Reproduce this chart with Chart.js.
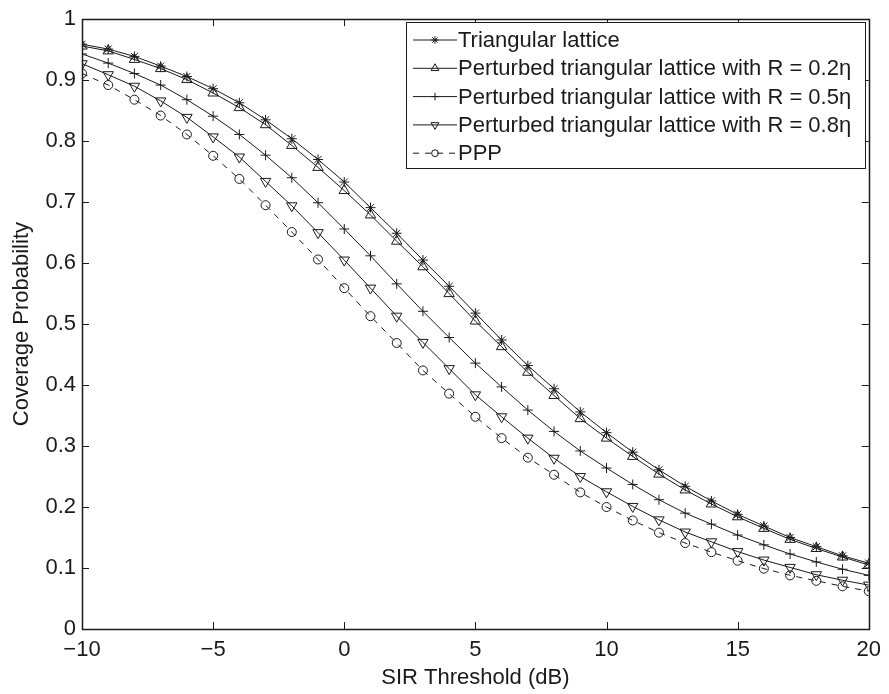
<!DOCTYPE html>
<html>
<head>
<meta charset="utf-8">
<script src="https://cdn.jsdelivr.net/npm/chart.js@4.4.1/dist/chart.umd.min.js"></script>
<style>
  html, body { margin: 0; padding: 0; background: #fff; }
  #wrap { width: 889px; height: 694px; }
</style>
</head>
<body>
<div id="wrap"><canvas id="covChart" width="889" height="694"></canvas></div>
<script>
// SIR threshold in dB
const sir = [-10, -9, -8, -7, -6, -5, -4, -3, -2, -1, 0, 1, 2, 3, 4, 5, 6, 7, 8, 9, 10,
  11, 12, 13, 14, 15, 16, 17, 18, 19, 20];

const seriesNames = [
  "Triangular lattice",
  "Perturbed triangular lattice with R = 0.2\u03b7",
  "Perturbed triangular lattice with R = 0.5\u03b7",
  "Perturbed triangular lattice with R = 0.8\u03b7",
  "PPP",
];

const triLattice = [0.959, 0.951, 0.939, 0.923, 0.906, 0.886, 0.863, 0.835, 0.804, 0.770, 0.733,
  0.691, 0.649, 0.605, 0.562, 0.518, 0.474, 0.432, 0.394, 0.356, 0.322,
  0.290, 0.261, 0.234, 0.210, 0.188, 0.169, 0.150, 0.135, 0.120, 0.108];
const pert02 = [0.956, 0.948, 0.934, 0.919, 0.901, 0.879, 0.855, 0.827, 0.793, 0.757, 0.719,
  0.679, 0.636, 0.594, 0.550, 0.505, 0.463, 0.421, 0.383, 0.345, 0.313,
  0.283, 0.254, 0.228, 0.205, 0.184, 0.165, 0.147, 0.132, 0.118, 0.105];
const pert05 = [0.943, 0.928, 0.911, 0.892, 0.868, 0.841, 0.811, 0.777, 0.740, 0.699, 0.656,
  0.612, 0.566, 0.521, 0.478, 0.436, 0.397, 0.359, 0.324, 0.292, 0.264,
  0.237, 0.212, 0.190, 0.172, 0.154, 0.138, 0.123, 0.110, 0.098, 0.088];
const pert08 = [0.927, 0.909, 0.890, 0.866, 0.839, 0.807, 0.774, 0.734, 0.694, 0.650, 0.605,
  0.559, 0.513, 0.470, 0.427, 0.384, 0.348, 0.313, 0.280, 0.250, 0.225,
  0.201, 0.179, 0.159, 0.143, 0.127, 0.113, 0.101, 0.089, 0.080, 0.072];
const ppp = [0.911, 0.892, 0.868, 0.842, 0.811, 0.776, 0.738, 0.695, 0.651, 0.606, 0.559,
  0.513, 0.469, 0.424, 0.386, 0.348, 0.313, 0.281, 0.253, 0.224, 0.200,
  0.178, 0.158, 0.141, 0.126, 0.112, 0.099, 0.088, 0.079, 0.070, 0.062];

const xTicks = [-10, -5, 0, 5, 10, 15, 20];
const yTicks = [0, 0.1, 0.2, 0.3, 0.4, 0.5, 0.6, 0.7, 0.8, 0.9, 1];

const FONT = "'Liberation Sans', Arial, Helvetica, sans-serif";
const INK = "#1a1a1a";
const FSIZE = 22;

// * marker styles per series
const markers = [
  { style: "star", radius: 5, rot: 0, dash: [] },
  { style: "triangle", radius: 6, rot: 0, dash: [] },
  { style: "cross", radius: 5, rot: 0, dash: [] },
  { style: "triangle", radius: 6, rot: 180, dash: [] },
  { style: "circle", radius: 4.5, rot: 0, dash: [6, 6] },
];

const allValues = [triLattice, pert02, pert05, pert08, ppp];

const datasets = allValues.map((vals, i) => ({
  label: seriesNames[i],
  data: sir.map((x, j) => ({ x: x, y: vals[j] })),
  borderColor: INK,
  borderWidth: 1,
  borderDash: markers[i].dash,
  tension: 0,
  fill: false,
  pointStyle: markers[i].style,
  pointRadius: markers[i].radius,
  pointRotation: markers[i].rot,
  pointBorderColor: INK,
  pointBorderWidth: 1,
  pointBackgroundColor: "rgba(0,0,0,0)",
}));

// ? box, inner ticks and legend
const matlabAxes = {
  id: "matlabAxes",
  afterDatasetsDraw(chart) {
    const ctx = chart.ctx;
    const a = chart.chartArea;
    const xs = chart.scales.x;
    const ys = chart.scales.y;
    const tl = 7;
    ctx.save();
    ctx.strokeStyle = INK;
    ctx.lineWidth = 1;
    ctx.setLineDash([]);
    ctx.beginPath();
    xTicks.forEach((t) => {
      const px = Math.round(xs.getPixelForValue(t)) + 0.5;
      ctx.moveTo(px, a.bottom);
      ctx.lineTo(px, a.bottom - tl);
      ctx.moveTo(px, a.top);
      ctx.lineTo(px, a.top + tl);
    });
    yTicks.forEach((t) => {
      const py = Math.round(ys.getPixelForValue(t)) + 0.5;
      ctx.moveTo(a.left, py);
      ctx.lineTo(a.left + tl, py);
      ctx.moveTo(a.right, py);
      ctx.lineTo(a.right - tl, py);
    });
    ctx.stroke();
    ctx.lineWidth = 1.5;
    ctx.strokeRect(Math.round(a.left) + 0.5, Math.round(a.top) + 0.5,
      Math.round(a.right - a.left), Math.round(a.bottom - a.top));

    // legend
    const lx = 406, ly = 22, lw = 459, lh = 146;
    ctx.fillStyle = "#fff";
    ctx.fillRect(lx, ly, lw, lh);
    ctx.lineWidth = 1;
    ctx.strokeRect(lx + 0.5, ly + 0.5, lw, lh);
    ctx.font = FSIZE + "px " + FONT;
    ctx.textBaseline = "middle";
    ctx.textAlign = "left";
    chart.data.datasets.forEach((ds, i) => {
      const rowY = 40 + i * 28.3;
      ctx.strokeStyle = INK;
      ctx.setLineDash(ds.borderDash);
      ctx.beginPath();
      ctx.moveTo(413, rowY);
      ctx.lineTo(457, rowY);
      ctx.stroke();
      ctx.setLineDash([]);
      ctx.fillStyle = "rgba(0,0,0,0)";
      Chart.helpers.drawPoint(ctx, {
        pointStyle: ds.pointStyle,
        radius: ds.pointRadius * 0.75,
        rotation: ds.pointRotation,
        borderWidth: 1,
      }, 435, rowY);
      ctx.fillStyle = INK;
      ctx.fillText(ds.label, 458, rowY + 1);
    });
    ctx.restore();
  },
};

const ctx = document.getElementById("covChart").getContext("2d");
const covChart = new Chart(ctx, {
  type: "line",
  data: { datasets: datasets },
  options: {
    responsive: false,
    animation: false,
    layout: { padding: { top: 14, right: 17, left: 0, bottom: 0 } },
    plugins: {
      legend: { display: false },
      tooltip: { enabled: false },
    },
    scales: {
      x: {
        type: "linear",
        min: -10,
        max: 20,
        afterFit: (s) => { s.height = 65; },
        afterBuildTicks: (s) => { s.ticks = xTicks.map((v) => ({ value: v })); },
        grid: { display: false, drawTicks: false },
        border: { display: false },
        ticks: {
          color: INK,
          font: { family: FONT, size: FSIZE },
          padding: 8,
          maxRotation: 0,
          callback: (v) => (v < 0 ? "\u2212" + Math.abs(v) : String(v)),
        },
        title: {
          display: true,
          text: "SIR Threshold (dB)",
          color: INK,
          font: { family: FONT, size: FSIZE },
          padding: { top: 0, bottom: 3 },
        },
      },
      y: {
        min: 0,
        max: 1,
        afterFit: (s) => { s.width = 82; },
        afterBuildTicks: (s) => { s.ticks = yTicks.map((v) => ({ value: v })); },
        grid: { display: false, drawTicks: false },
        border: { display: false },
        ticks: {
          color: INK,
          font: { family: FONT, size: FSIZE },
          padding: 6,
          callback: (v) => (v === 0 || v === 1 ? String(v) : v.toFixed(1)),
        },
        title: {
          display: true,
          text: "Coverage Probability",
          color: INK,
          font: { family: FONT, size: FSIZE },
          padding: { top: 9, bottom: 0 },
        },
      },
    },
  },
  plugins: [matlabAxes],
});
</script>
</body>
</html>
